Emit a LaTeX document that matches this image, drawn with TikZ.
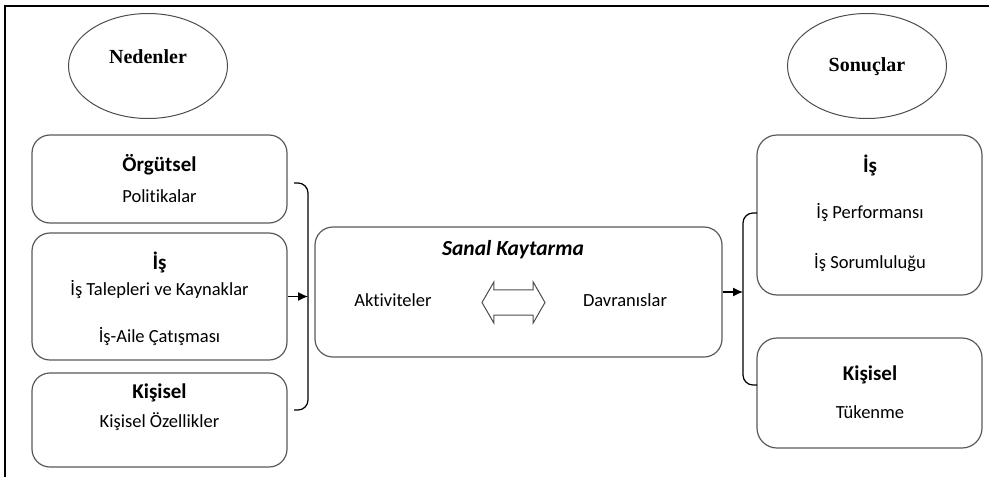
\documentclass[tikz,border=0pt]{standalone}
\usepackage{fontspec}
\setmainfont{Carlito}[Ligatures=NoCommon]
\newfontfamily\serifbold{Liberation Serif}
\usetikzlibrary{shapes.geometric,shapes.arrows,arrows.meta}

\tikzset{
  kutu/.style={draw=black!65, line width=1.2pt, rounded corners=18pt, minimum width=255pt},
  baslik/.style={font=\fontsize{21}{24}\selectfont\bfseries},
  madde/.style={font=\fontsize{18.5}{21}\selectfont},
  oval/.style={ellipse, draw=black!70, line width=1pt, minimum width=159pt, minimum height=105pt},
  ovalyazi/.style={font=\serifbold\bfseries\fontsize{20}{23}\selectfont},
  kanca/.style={line width=1.2pt, rounded corners=10pt},
  ok/.style={-{Latex[length=10pt,width=9pt]}, line width=1.2pt}
}

\begin{document}
\begin{tikzpicture}[x=1pt,y=-1pt]
    \useasboundingbox (0,0) rectangle (989,477);
    % Frame
    \draw[line width=2.2pt] (989,6) -- (5,6) -- (5,477);

    % Headings
    \node[oval] (ned) at (148,66) {};
    \node[ovalyazi] (nedt) at (148,57) {Nedenler};
    \node[oval] (son) at (867,66) {};
    \node[ovalyazi] (sont) at (867,67) {Sonuçlar};

    % Causes
    \node[kutu, minimum height=88pt] (org) at (159.5,179) {};
    \node[baslik] (orgb) at (159.5,165) {Örgütsel};
    \node[madde] (orgm) at (159.5,196) {Politikalar};

    \node[kutu, minimum height=127pt] (is) at (159.5,296.5) {};
    \node[baslik] (isb) at (159.5,262) {İş};
    \node[madde] (ism1) at (159.5,290) {İş Talepleri ve Kaynaklar};
    \node[madde] (ism2) at (159.5,337) {İş-Aile Çatışması};

    \node[kutu, minimum height=94pt] (kis) at (159.5,420) {};
    \node[baslik] (kisb) at (159.5,393) {Kişisel};
    \node[madde] (kism) at (159.5,422) {Kişisel Özellikler};

    % Cyberloafing
    \node[kutu, minimum width=407pt, minimum height=130pt] (sk) at (518.5,292) {};
    \node[baslik, font=\fontsize{21.5}{24}\selectfont\bfseries\itshape] (skb) at (513,250) {Sanal Kaytarma};
    \node[madde] (akt) at (393,300) {Aktiviteler};
    \node[madde] (dav) at (625,300) {Davranıslar};
    \node[double arrow, draw=black!70, line width=1pt, minimum height=63pt, minimum width=41pt,
          inner xsep=0pt, inner ysep=11pt, double arrow tip angle=120] (cift) at (513.5,302.5) {};

    % Results
    \node[kutu, rounded corners=20pt, minimum width=225pt, minimum height=160pt] (pis) at (869.5,215) {};
    \node[baslik] (pisb) at (870,165) {İş};
    \node[madde] (pism1) at (870,213) {İş Performansı};
    \node[madde] (pism2) at (870,263) {İş Sorumluluğu};

    \node[kutu, rounded corners=20pt, minimum width=225pt, minimum height=110pt] (pkis) at (869.5,393) {};
    \node[baslik] (pkisb) at (870,375) {Kişisel};
    \node[madde] (pkism) at (870,412) {Tükenme};

    % Brackets and arrows
    \coordinate (solust) at (294,183);
    \coordinate (solalt) at (294,410);
    \coordinate (soldik) at (308,0);
    \draw[kanca] (solust) -- (solust -| soldik) -- (solalt -| soldik) -- (solalt);
    \coordinate (sagust) at (757,213);
    \coordinate (sagalt) at (757,385);
    \coordinate (sagdik) at (743,0);
    \draw[kanca] (sagust) -- (sagust -| sagdik) -- (sagalt -| sagdik) -- (sagalt);

    \draw[ok] (is.east) -- (is.east -| soldik);
    \draw[ok] (sk.east) -- (sk.east -| sagdik);
\end{tikzpicture}
\end{document}
